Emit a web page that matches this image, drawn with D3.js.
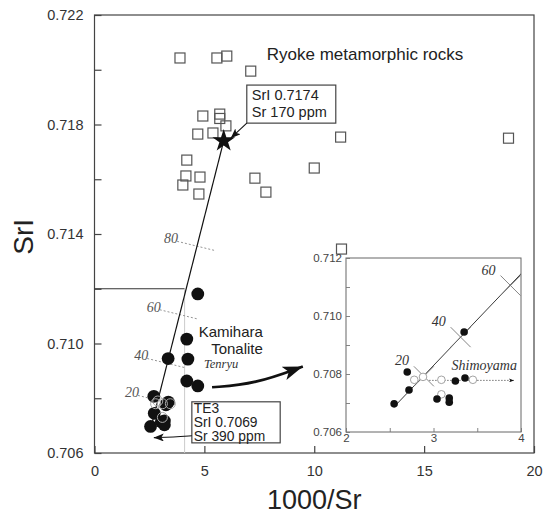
<!DOCTYPE html>
<html>
<head>
<meta charset="utf-8">
<script src="https://cdn.jsdelivr.net/npm/d3@7"></script>
<style>
body { margin: 0; background: #fff; }
svg { font-family: "Liberation Sans", Arial, sans-serif; }
</style>
</head>
<body>
<div id="chart"></div>
<script>
// Ryoke metamorphic rocks (open squares)
const ryokeX = [3.89, 5.57, 6.02, 7.11, 4.93, 5.70, 5.70, 5.98, 4.70, 5.39, 4.20, 4.16, 4.80, 4.02, 4.75, 7.30, 7.80, 10.0, 11.2, 18.84, 11.24];
const ryokeY = [0.72043, 0.72043, 0.7205, 0.71995, 0.71831, 0.71838, 0.71822, 0.71795, 0.71765, 0.71769, 0.7167, 0.71612, 0.71608, 0.71579, 0.71546, 0.71604, 0.71553, 0.71641, 0.71754, 0.7175, 0.71345];
// Kamihara Tonalite, Tenryu (filled circles)
const tenryuX = [2.55, 2.72, 2.70, 3.04, 3.18, 3.18, 3.25, 3.36, 3.35, 4.70, 4.20, 4.25, 4.20, 4.70];
const tenryuY = [0.70697, 0.70745, 0.70807, 0.70714, 0.70717, 0.70703, 0.70776, 0.70786, 0.70945, 0.71181, 0.71016, 0.70943, 0.70863, 0.70845];
// Shimoyama (open circles)
const shimoX = [2.78, 2.88, 3.09, 3.09, 3.45];
const shimoY = [0.7078, 0.7079, 0.7078, 0.7073, 0.7078];
// mixing line end members and % marks
const endRyoke = [5.88, 0.7174];
const endTE3 = [2.56, 0.7069];
const mixPct = [20, 40, 60, 80];
const mixX = [2.89, 3.31, 3.88, 4.67];
const mixY = [0.70792, 0.70927, 0.71105, 0.71355];
// axes
const xTicks = [0, 5, 10, 15, 20];
const yTicks = [0.706, 0.708, 0.710, 0.712, 0.714, 0.716, 0.718, 0.720, 0.722];
const insetXTicks = [2, 2.5, 3, 3.5, 4];
const insetYTicks = [0.706, 0.707, 0.708, 0.709, 0.710, 0.711, 0.712];

const width = 543, height = 515;
const margin = {top: 15, right: 9, bottom: 62, left: 94.5};

const svg = d3.select("#chart").append("svg")
    .attr("width", width)
    .attr("height", height)
    .attr("viewBox", [0, 0, width, height]);

const x = d3.scaleLinear().domain([0, 20]).range([margin.left, width - margin.right]);
const y = d3.scaleLinear().domain([0.706, 0.722]).range([height - margin.bottom, margin.top]);

const defs = svg.append("defs");
function marker(id, w, h) {
    defs.append("marker")
        .attr("id", id)
        .attr("viewBox", `0 0 ${w} ${h}`)
        .attr("refX", w).attr("refY", h / 2)
        .attr("markerWidth", w).attr("markerHeight", h)
        .attr("markerUnits", "userSpaceOnUse")
        .attr("orient", "auto")
        .append("path")
        .attr("d", `M0,0L${w},${h / 2}L0,${h}L${w * 0.25},${h / 2}Z`)
        .attr("fill", "#111");
}
marker("arrS", 10, 8);
marker("arrB", 20, 14);
marker("arrT", 5, 4);

// frame
svg.append("rect")
    .attr("x", x(0)).attr("y", y(0.722))
    .attr("width", x(20) - x(0)).attr("height", y(0.706) - y(0.722))
    .attr("fill", "none").attr("stroke", "#444").attr("stroke-width", 1.2);

const xAxis = g => g
    .attr("transform", `translate(0,${y(0.706)})`)
    .call(d3.axisBottom(x).tickValues(xTicks).tickSizeInner(-7).tickSizeOuter(0).tickPadding(13)
        .tickFormat(d3.format("d")))
    .call(g => g.select(".domain").remove());
const yAxis = g => g
    .attr("transform", `translate(${x(0)},0)`)
    .call(d3.axisLeft(y).tickValues(yTicks).tickSizeInner(-7).tickSizeOuter(0).tickPadding(11)
        .tickFormat(d => Math.round(d * 1000) % 4 === 2 ? d3.format(".3f")(d) : ""))
    .call(g => g.select(".domain").remove());

svg.append("g").call(xAxis);
svg.append("g").call(yAxis);
svg.selectAll(".tick line").attr("stroke", "#444").attr("stroke-width", 1.2);
svg.selectAll(".tick text").attr("font-size", 14.5).attr("fill", "#333")
    .attr("font-family", "Liberation Sans, Arial, sans-serif");

// axis titles
svg.append("text")
    .attr("x", x(10)).attr("y", 509)
    .attr("text-anchor", "middle")
    .attr("font-size", 27).attr("fill", "#222")
    .text("1000/Sr");
svg.append("text")
    .attr("transform", `translate(33,${y(0.7139)}) rotate(-90)`)
    .attr("text-anchor", "middle")
    .attr("font-size", 28).attr("fill", "#222")
    .text("SrI");

// zoom box outline
svg.append("line")
    .attr("x1", x(0)).attr("x2", x(4.1))
    .attr("y1", y(0.712)).attr("y2", y(0.712))
    .attr("stroke", "#333").attr("stroke-width", 1);
svg.append("line")
    .attr("x1", x(4.1)).attr("x2", x(4.1))
    .attr("y1", y(0.712)).attr("y2", y(0.706))
    .attr("stroke", "#ccc").attr("stroke-width", 1);

// mixing % marks
mixPct.forEach((p, i) => {
    const cx = x(mixX[i]), cy = y(mixY[i]);
    svg.append("line")
        .attr("x1", cx - 20).attr("y1", cy - 5)
        .attr("x2", cx + 17).attr("y2", cy + 4)
        .attr("stroke", "#888").attr("stroke-width", 0.9)
        .attr("stroke-dasharray", "2,2");
    svg.append("text")
        .attr("x", cx - 19).attr("y", cy - 3)
        .attr("text-anchor", "end")
        .attr("font-family", "Liberation Serif, serif")
        .attr("font-style", "italic")
        .attr("font-size", 14).attr("fill", "#555")
        .text(p);
});

// mixing line
svg.append("line")
    .attr("x1", x(endTE3[0])).attr("y1", y(endTE3[1]))
    .attr("x2", x(endRyoke[0])).attr("y2", y(endRyoke[1]))
    .attr("stroke", "#111").attr("stroke-width", 1.2);

// squares
svg.append("g")
    .selectAll("rect")
    .data(ryokeX)
    .join("rect")
    .attr("x", (d, i) => x(d) - 5)
    .attr("y", (d, i) => y(ryokeY[i]) - 5)
    .attr("width", 10).attr("height", 10)
    .attr("fill", "none").attr("stroke", "#555").attr("stroke-width", 1.2);

// shimoyama + tenryu in main
svg.append("g")
    .selectAll("circle")
    .data(tenryuX)
    .join("circle")
    .attr("cx", d => x(d))
    .attr("cy", (d, i) => y(tenryuY[i]))
    .attr("r", 6.4)
    .attr("fill", "#111");
svg.append("g")
    .selectAll("circle")
    .data(shimoX)
    .join("circle")
    .attr("cx", d => x(d))
    .attr("cy", (d, i) => y(shimoY[i]))
    .attr("r", 5)
    .attr("fill", "none").attr("stroke", "#aaa").attr("stroke-width", 1);

// star
svg.append("path")
    .attr("transform", `translate(${x(endRyoke[0])},${y(endRyoke[1])})`)
    .attr("d", d3.symbol(d3.symbolStar, 160)())
    .attr("fill", "#111");

// annotations
svg.append("text")
    .attr("x", x(7.84)).attr("y", y(0.72036))
    .attr("font-size", 17).attr("fill", "#222")
    .text("Ryoke metamorphic rocks");

svg.append("rect")
    .attr("x", x(6.93)).attr("y", y(0.71944))
    .attr("width", x(10.98) - x(6.93)).attr("height", y(0.71805) - y(0.71944))
    .attr("fill", "#fff").attr("stroke", "#444").attr("stroke-width", 1.2);
svg.append("text")
    .attr("x", x(7.16)).attr("y", y(0.71888))
    .attr("font-size", 14.5).attr("fill", "#222")
    .text("SrI 0.7174");
svg.append("text")
    .attr("x", x(7.16)).attr("y", y(0.71827))
    .attr("font-size", 14.5).attr("fill", "#222")
    .text("Sr 170 ppm");
svg.append("line")
    .attr("x1", x(6.93)).attr("y1", y(0.71805))
    .attr("x2", x(6.2)).attr("y2", y(0.7175))
    .attr("stroke", "#111").attr("stroke-width", 1.1)
    .attr("marker-end", "url(#arrS)");

svg.append("rect")
    .attr("x", x(4.43)).attr("y", y(0.70787))
    .attr("width", x(8.45) - x(4.43)).attr("height", y(0.70637) - y(0.70787))
    .attr("fill", "#fff").attr("stroke", "#444").attr("stroke-width", 1.2);
["TE3", "SrI 0.7069", "Sr 390 ppm"].forEach((t, i) => {
    svg.append("text")
        .attr("x", x(4.52)).attr("y", y(0.70746 - i * 0.00051))
        .attr("font-size", 13.8).attr("fill", "#222")
        .text(t);
});
svg.append("path")
    .attr("d", d3.line().curve(d3.curveBasis)([
        [x(4.43), y(0.70663)], [x(3.6), y(0.70658)], [x(2.7), y(0.70656)]
    ]))
    .attr("fill", "none").attr("stroke", "#111").attr("stroke-width", 1.1)
    .attr("marker-end", "url(#arrS)");

svg.append("text")
    .attr("x", x(7.66)).attr("y", y(0.71022))
    .attr("text-anchor", "end")
    .attr("font-size", 15).attr("fill", "#222")
    .text("Kamihara");
svg.append("text")
    .attr("x", x(7.66)).attr("y", y(0.70962))
    .attr("text-anchor", "end")
    .attr("font-size", 15).attr("fill", "#222")
    .text("Tonalite");
svg.append("text")
    .attr("x", x(4.98)).attr("y", y(0.70911))
    .attr("font-family", "Liberation Serif, serif")
    .attr("font-style", "italic")
    .attr("font-size", 12.5).attr("fill", "#333")
    .text("Tenryu");

svg.append("path")
    .attr("d", d3.line().curve(d3.curveBasis)([
        [x(5.35), y(0.7084)], [x(7.3), y(0.70852)], [x(9.48), y(0.70916)]
    ]))
    .attr("fill", "none").attr("stroke", "#111").attr("stroke-width", 2.6)
    .attr("marker-end", "url(#arrB)");

// inset
const inset = {x0: 346, x1: 521, y0: 258, y1: 432};
const xi = d3.scaleLinear().domain([2, 4]).range([inset.x0, inset.x1]);
const yi = d3.scaleLinear().domain([0.706, 0.712]).range([inset.y1, inset.y0]);

defs.append("clipPath").attr("id", "insetClip")
    .append("rect")
    .attr("x", inset.x0).attr("y", inset.y0)
    .attr("width", inset.x1 - inset.x0).attr("height", inset.y1 - inset.y0);

const ig = svg.append("g");
ig.append("rect")
    .attr("x", inset.x0).attr("y", inset.y0)
    .attr("width", inset.x1 - inset.x0).attr("height", inset.y1 - inset.y0)
    .attr("fill", "#fff");

const ic = ig.append("g").attr("clip-path", "url(#insetClip)");

ic.append("line")
    .attr("x1", xi(endTE3[0])).attr("y1", yi(endTE3[1]))
    .attr("x2", xi(endRyoke[0])).attr("y2", yi(endRyoke[1]))
    .attr("stroke", "#222").attr("stroke-width", 0.9);

// X marks at mixing %
mixPct.slice(0, 3).forEach((p, i) => {
    const cx = xi(mixX[i]), cy = yi(mixY[i]);
    ic.append("path")
        .attr("d", `M${cx - 10},${cy - 10}L${cx + 10},${cy + 10}M${cx - 10},${cy + 10}L${cx + 10},${cy - 10}`)
        .attr("stroke", "#777").attr("stroke-width", 0.9);
    ig.append("text")
        .attr("x", cx - 22).attr("y", cy - 11)
        .attr("text-anchor", "middle")
        .attr("font-family", "Liberation Serif, serif")
        .attr("font-style", "italic")
        .attr("font-size", 14).attr("fill", "#333")
        .text(p);
});

// Shimoyama arrow
ic.append("line")
    .attr("x1", xi(2.95)).attr("x2", xi(3.92))
    .attr("y1", yi(0.70778)).attr("y2", yi(0.70778))
    .attr("stroke", "#666").attr("stroke-width", 0.9)
    .attr("stroke-dasharray", "1.5,1.5")
    .attr("marker-end", "url(#arrT)");
ig.append("text")
    .attr("x", xi(3.58)).attr("y", yi(0.70814))
    .attr("text-anchor", "middle")
    .attr("font-family", "Liberation Serif, serif")
    .attr("font-style", "italic")
    .attr("font-size", 14).attr("fill", "#333")
    .text("Shimoyama");

ic.append("g")
    .selectAll("circle")
    .data(shimoX)
    .join("circle")
    .attr("cx", d => xi(d))
    .attr("cy", (d, i) => yi(shimoY[i]))
    .attr("r", 3.8)
    .attr("fill", "#fff").attr("stroke", "#999").attr("stroke-width", 0.9);
ic.append("g")
    .selectAll("circle")
    .data(tenryuX.filter(d => d <= 4))
    .join("circle")
    .attr("cx", d => xi(d))
    .attr("cy", (d, i) => yi(tenryuY[i]))
    .attr("r", 3.8)
    .attr("fill", "#111");

ig.append("rect")
    .attr("x", inset.x0).attr("y", inset.y0)
    .attr("width", inset.x1 - inset.x0).attr("height", inset.y1 - inset.y0)
    .attr("fill", "none").attr("stroke", "#666").attr("stroke-width", 1);

const ixAxis = g => g
    .attr("transform", `translate(0,${inset.y1})`)
    .call(d3.axisBottom(xi).tickValues(insetXTicks).tickSizeInner(-4).tickSizeOuter(0).tickPadding(1.5)
        .tickFormat(d => Number.isInteger(d) ? d : ""))
    .call(g => g.select(".domain").remove());
const iyAxis = g => g
    .attr("transform", `translate(${inset.x0},0)`)
    .call(d3.axisLeft(yi).tickValues(insetYTicks).tickSizeInner(-4).tickSizeOuter(0).tickPadding(4)
        .tickFormat(d => Math.round(d * 1000) % 2 === 0 ? d3.format(".3f")(d) : ""))
    .call(g => g.select(".domain").remove());
ig.append("g").call(ixAxis);
ig.append("g").call(iyAxis);
ig.selectAll(".tick line").attr("stroke", "#777").attr("stroke-width", 0.9);
ig.selectAll(".tick text").attr("font-size", 11.5).attr("fill", "#444")
    .attr("font-family", "Liberation Sans, Arial, sans-serif");
</script>
</body>
</html>
